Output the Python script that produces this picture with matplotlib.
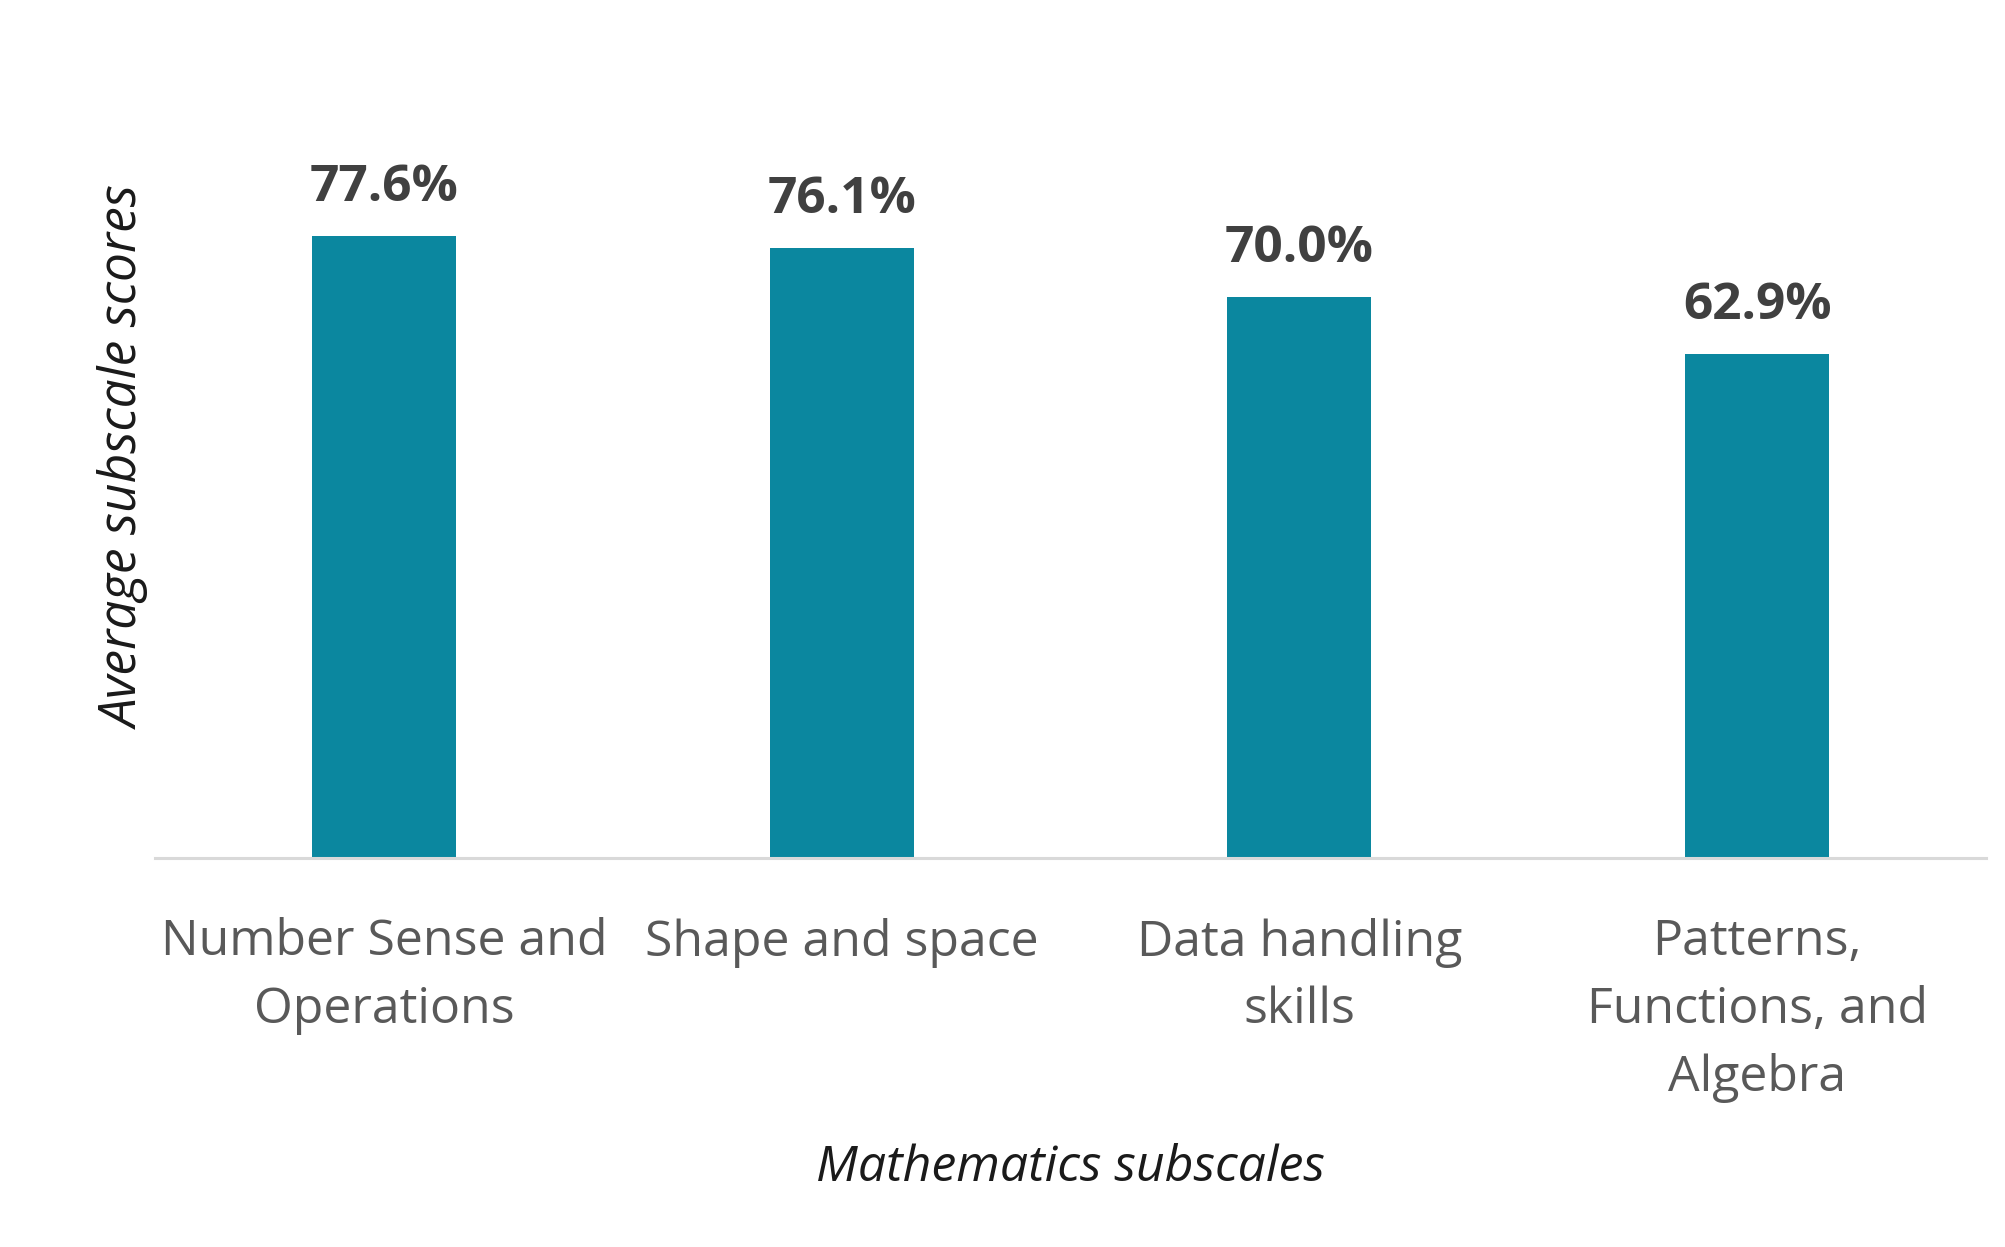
import matplotlib
matplotlib.use("Agg")
import matplotlib.pyplot as plt

categories = ["Number Sense and\nOperations", "Shape and space",
              "Data handling\nskills", "Patterns,\nFunctions, and\nAlgebra"]
scores = [77.6, 76.1, 70.0, 62.9]
value_labels = ["77.6%", "76.1%", "70.0%", "62.9%"]

plt.rcParams["font.family"] = ["Open Sans", "DejaVu Sans"]

W, H = 2005, 1247
fig = plt.figure(figsize=(W / 100, H / 100), dpi=100)
ax = fig.add_axes([155 / W, 1 - 858 / H, (1986 - 155) / W, (858 - 57) / H])

x = range(len(categories))
bars = ax.bar(x, scores, width=0.315, color="#0B879F", zorder=2)

for b, lab in zip(bars, value_labels):
    ax.annotate(lab, (b.get_x() + b.get_width() / 2, b.get_height()),
                xytext=(0, 17), textcoords="offset points",
                ha="center", va="bottom", fontsize=37, fontweight="bold",
                color="#404040")

ax.set_ylim(0, 100)
ax.set_xlim(-0.5, 3.5)
ax.set_xticks(list(x))
ax.set_xticklabels(categories, fontsize=36, color="#595959", linespacing=1.48)
ax.tick_params(axis="x", length=0, pad=43)
ax.set_yticks([])

for side in ["left", "right", "top"]:
    ax.spines[side].set_visible(False)
ax.spines["bottom"].set_color("#D9D9D9")
ax.spines["bottom"].set_linewidth(2.2)

ax.set_xlabel("Mathematics subscales", fontsize=36, style="italic",
              color="#1a1a1a", labelpad=29)
ax.set_ylabel("Average subscale scores", fontsize=37, style="italic",
              color="#1a1a1a")
ax.yaxis.set_label_coords(-0.002, 0.5)

fig.savefig("out.png", dpi=100, facecolor="white")
